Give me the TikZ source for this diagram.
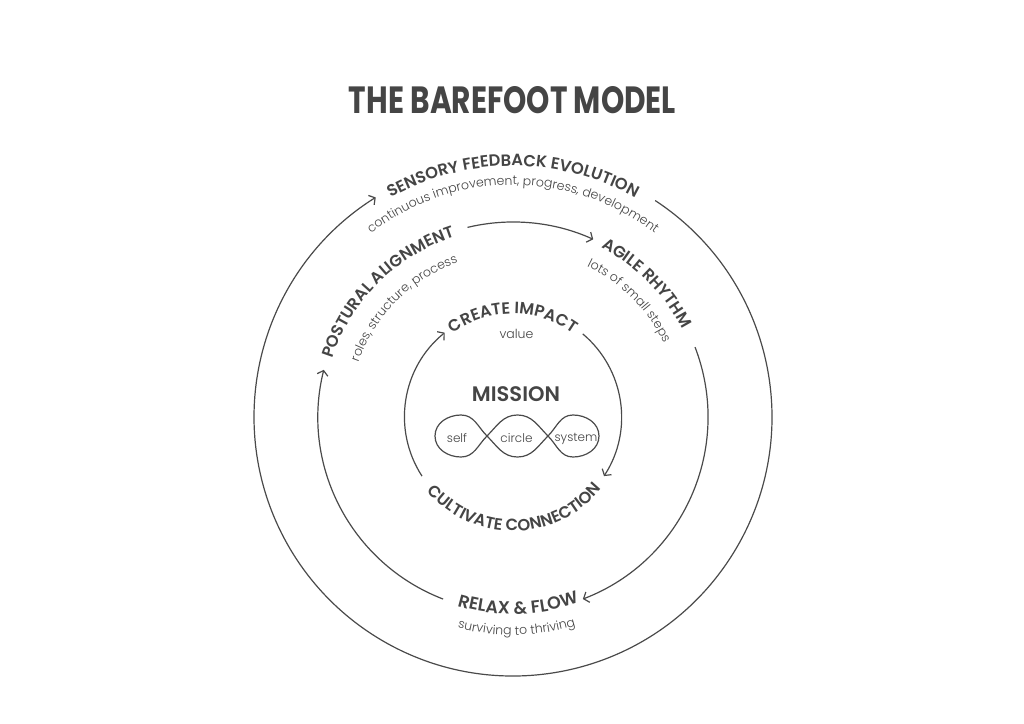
\documentclass[tikz,border=0pt]{standalone}
\usepackage{fontspec}
\usepackage{graphicx}
\usetikzlibrary{decorations.text,arrows.meta}
\setmainfont{Poppins}
\newfontfamily\sbf{Poppins SemiBold}
\newfontfamily\ltf{Poppins Light}
\newfontfamily\bdf{Poppins Bold}
\definecolor{ink}{HTML}{454545}
\definecolor{ln}{HTML}{4A4A4A}
\begin{document}
\begin{tikzpicture}[x=1pt,y=1pt,
  ring/.style={draw=ln, line width=1.2pt},
  arr/.style={ring, -{Straight Barb[length=4.5pt,width=11pt]}},
  toplab/.style={decorate,decoration={text along path, text color=ink, text align=center, text={|\sbf\fontsize{16.3}{16}\selectfont|#1}}},
  biglab/.style={decorate,decoration={text along path, text color=ink, text align=center, text={|\sbf\fontsize{17.5}{17}\selectfont|#1}}},
  topsub/.style={decorate,decoration={text along path, text color=ink, text align=center, text={|\ltf\fontsize{12.5}{12.5}\selectfont|#1}}},
]
\useasboundingbox (-513,-306) rectangle (511,417);
\fill[white] (-513,-306) rectangle (511,417);

% title
\node[text=ink, inner sep=0pt] (title) at (-0.5,316.5) {\resizebox{327pt}{27pt}{\bdf THE\ BAREFOOT\ MODEL}};

% outer ring
\draw[arr] (56.7:259) arc[start angle=56.7, end angle=-238, radius=259];
% middle ring
\draw[arr] (103.5:195) arc[start angle=103.5, end angle=65.7, radius=195];
\draw[arr] (21:195) arc[start angle=21, end angle=-69, radius=195];
\draw[arr] (249:195) arc[start angle=249, end angle=166, radius=195];
% inner ring
\draw[arr] (50:108.5) arc[start angle=50, end angle=-33, radius=108.5];
\draw[arr] (213:108.5) arc[start angle=213, end angle=129, radius=108.5];

% outer label
\path[toplab={SENSORY FEEDBACK EVOLUTION}] (170:251) arc[start angle=170, end angle=10, radius=251];
\path[topsub={continuous improvement, progress, development}] (170:232) arc[start angle=170, end angle=10, radius=232];

% middle labels
\path[toplab={POSTURAL ALIGNMENT}] (215:189.5) arc[start angle=215, end angle=55, radius=189.5];
\path[topsub={roles, structure, process}] (215:164) arc[start angle=215, end angle=55, radius=164];
\path[toplab={AGILE RHYTHM}] (125:191) arc[start angle=125, end angle=-35, radius=191];
\path[topsub={lots of small steps}] (125:168) arc[start angle=125, end angle=-35, radius=168];
\path[biglab={RELAX {\&} FLOW}] (191.6:197) arc[start angle=191.6, end angle=351.6, radius=197];
\path[topsub={surviving to thriving}] (191:218) arc[start angle=191, end angle=351, radius=218];

% inner labels
\path[toplab={CREATE IMPACT}] (170:103) arc[start angle=170, end angle=10, radius=103];
\path[toplab={CULTIVATE CONNECTION}] (186:114) arc[start angle=186, end angle=356, radius=114];

\node[text=ink, font=\ltf\fontsize{12.5}{12.5}\selectfont] (value) at (3.5,83) {value};
\node[text=ink, font=\sbf\fontsize{21}{21}\selectfont] (mission) at (3,22.5) {MISSION};

% loops
\draw[ring] (-26,-19) to[out=45,in=180] (4.5,2) to[out=0,in=135] (35,-19)
  to[out=-45,in=180] (60,-40) to[out=0,in=-90] (86,-19) to[out=90,in=0] (60,2)
  to[out=180,in=45] (35,-19) to[out=-135,in=0] (4.5,-40) to[out=180,in=-45] (-26,-19)
  to[out=135,in=0] (-52,2) to[out=180,in=90] (-78,-19) to[out=-90,in=180] (-52,-40)
  to[out=0,in=-135] (-26,-19);
\node[text=ink, font=\ltf\fontsize{12}{12}\selectfont] (self) at (-56,-21.5) {self};
\node[text=ink, font=\ltf\fontsize{12}{12}\selectfont] (circle) at (3.5,-21.5) {circle};
\node[text=ink, font=\ltf\fontsize{12}{12}\selectfont] (system) at (63,-21.5) {system};
\end{tikzpicture}
\end{document}
